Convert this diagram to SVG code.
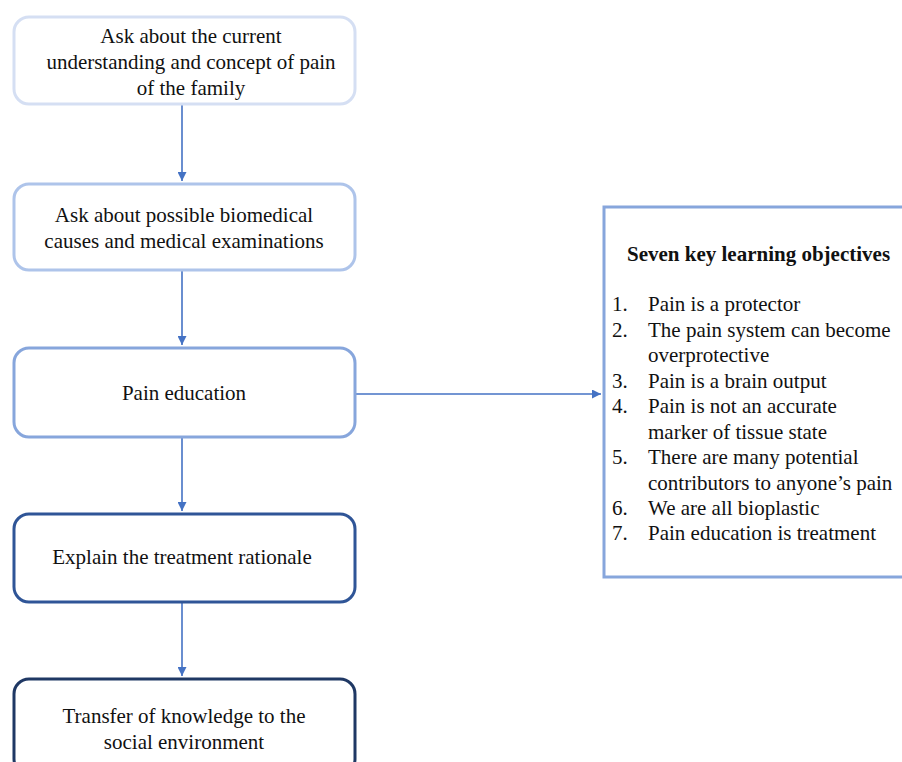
<svg xmlns="http://www.w3.org/2000/svg" width="902" height="762" viewBox="0 0 902 762">
<defs>
<style>
text{font-family:"Liberation Serif","Times New Roman",serif;font-size:21px;fill:#111}
.c{text-anchor:middle}
.b{font-weight:bold}
.n{fill:#fff;stroke-width:3}
.e{stroke:#4472c4;stroke-width:1.6;fill:none}
</style>
<marker id="ah" viewBox="0 0 10 10" refX="10" refY="5" markerWidth="9" markerHeight="9" markerUnits="userSpaceOnUse" orient="auto"><path d="M0,0L10,5L0,10z" fill="#4472c4"/></marker>
</defs>
<rect width="902" height="762" fill="#fff"/>
<g id="connectors">
<line class="e" x1="182" y1="105" x2="182" y2="181" marker-end="url(#ah)"/>
<line class="e" x1="182" y1="271" x2="182" y2="345" marker-end="url(#ah)"/>
<line class="e" x1="182" y1="438" x2="182" y2="511" marker-end="url(#ah)"/>
<line class="e" x1="182" y1="603" x2="182" y2="676" marker-end="url(#ah)"/>
<line class="e" x1="356" y1="394" x2="601" y2="394" marker-end="url(#ah)"/>
</g>
<g id="n1">
<rect class="n" x="14" y="17" width="341" height="87" rx="15" stroke="#d5dff3"/>
<text class="c" x="191" y="43">Ask about the current</text>
<text class="c" x="191" y="69">understanding and concept of pain</text>
<text class="c" x="191" y="95">of the family</text>
</g>
<g id="n2">
<rect class="n" x="14" y="184" width="341" height="86" rx="15" stroke="#aec4ea"/>
<text class="c" x="184" y="222">Ask about possible biomedical</text>
<text class="c" x="184" y="248">causes and medical examinations</text>
</g>
<g id="n3">
<rect class="n" x="14" y="348" width="341" height="89" rx="15" stroke="#87a6dc"/>
<text class="c" x="184" y="400">Pain education</text>
</g>
<g id="n4">
<rect class="n" x="14" y="514" width="341" height="88" rx="15" stroke="#2f5597"/>
<text class="c" x="182" y="564">Explain the treatment rationale</text>
</g>
<g id="n5">
<rect class="n" x="14" y="679" width="341" height="95" rx="15" stroke="#1f3864"/>
<text class="c" x="184" y="723">Transfer of knowledge to the</text>
<text class="c" x="184" y="749">social environment</text>
</g>
<g id="objectives">
<rect class="n" x="604" y="207" width="310" height="370" stroke="#87a6dc"/>
<text class="b" x="627" y="261">Seven key learning objectives</text>
<text x="612" y="311">1.</text><text x="648" y="311">Pain is a protector</text>
<text x="612" y="336.5">2.</text><text x="648" y="336.5">The pain system can become</text>
<text x="648" y="362">overprotective</text>
<text x="612" y="387.5">3.</text><text x="648" y="387.5">Pain is a brain output</text>
<text x="612" y="413">4.</text><text x="648" y="413">Pain is not an accurate</text>
<text x="648" y="438.5">marker of tissue state</text>
<text x="612" y="464">5.</text><text x="648" y="464">There are many potential</text>
<text x="648" y="489.5">contributors to anyone’s pain</text>
<text x="612" y="515">6.</text><text x="648" y="515">We are all bioplastic</text>
<text x="612" y="540">7.</text><text x="648" y="540">Pain education is treatment</text>
</g>
</svg>
